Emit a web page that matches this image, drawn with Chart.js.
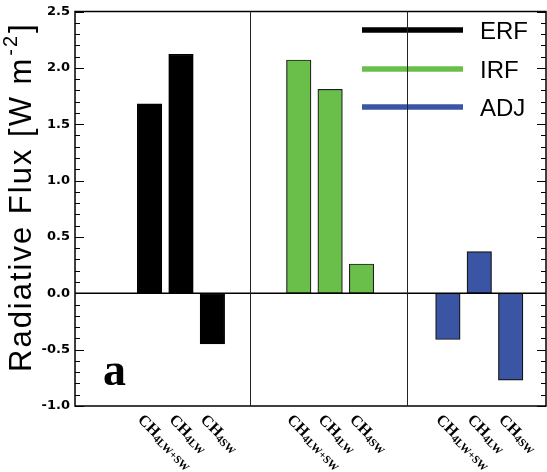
<!DOCTYPE html>
<html>
<head>
<meta charset="utf-8">
<script src="https://cdn.jsdelivr.net/npm/chart.js@4.4.0/dist/chart.umd.min.js"></script>
<style>
  html, body { margin: 0; padding: 0; background: #fff; }
</style>
</head>
<body>
<canvas id="fluxChart" width="547" height="472"></canvas>
<script>
// experiments shown in every panel
const experiments = ['CH4LW+SW', 'CH4LW', 'CH4SW'];
// forcing terms, one panel each
const seriesNames = ['ERF', 'IRF', 'ADJ'];
const erf = [1.68, 2.12, -0.45];
const irf = [2.07, 1.81, 0.26];
const adj = [-0.41, 0.37, -0.77];
// labelled y ticks
const yTicks = [-1.0, -0.5, 0.0, 0.5, 1.0, 1.5, 2.0, 2.5];

const seriesColors = ['#000000', '#6abf4b', '#3a55a4'];
const seriesBorders = ['#000000', '#1e1e1e', '#111111'];

// the x axis is a row of narrow slots; bars sit on every 4th slot, panels 19 slots apart
const nSlots = 60, firstSlot = 9, groupStep = 19, barStep = 4;
const dividerSlots = [21.8, 41.8];

const labels = new Array(nSlots).fill('');
[0, 1, 2].forEach(g => experiments.forEach((name, i) => {
    labels[firstSlot + g * groupStep + i * barStep] = name;
}));

function slotData(values, group) {
    const arr = new Array(nSlots).fill(null);
    values.forEach((v, i) => { arr[firstSlot + group * groupStep + i * barStep] = v; });
    return arr;
}

function line(ctx, x1, y1, x2, y2) {
    ctx.beginPath();
    ctx.moveTo(x1, y1);
    ctx.lineTo(x2, y2);
    ctx.stroke();
}

const panelDecor = {
    id: 'panelDecor',
    afterDatasetsDraw(chart) {
        const { ctx, chartArea: a, scales: { x, y } } = chart;
        ctx.save();
        ctx.strokeStyle = '#000';
        ctx.fillStyle = '#000';

        // zero line
        ctx.lineWidth = 1.6;
        const y0 = y.getPixelForValue(0);
        line(ctx, a.left, y0, a.right, y0);

        // inward tick marks on both sides, minor every 0.1
        ctx.lineWidth = 1;
        const steps = Math.round((y.max - y.min) * 10);
        for (let i = 0; i <= steps; i++) {
            const py = Math.round(y.getPixelForValue(y.min + i * 0.1)) + 0.5;
            const len = i % 5 === 0 ? 9 : 5;
            line(ctx, a.left, py, a.left + len, py);
            line(ctx, a.right - len, py, a.right, py);
        }

        // frame
        ctx.lineWidth = 1.5;
        ctx.strokeRect(a.left, a.top, a.right - a.left, a.bottom - a.top);

        // legend
        const legendY = [30, 69, 107];
        seriesNames.forEach((name, i) => {
            ctx.strokeStyle = seriesColors[i];
            ctx.lineWidth = 5.5;
            line(ctx, 362, legendY[i], 463, legendY[i]);
            ctx.fillStyle = '#000';
            ctx.font = '24px "Liberation Sans", Arial, sans-serif';
            ctx.textAlign = 'left';
            ctx.textBaseline = 'alphabetic';
            ctx.fillText(name, 480, legendY[i] + 8.6);
        });

        // panel dividers
        ctx.strokeStyle = '#222';
        ctx.lineWidth = 1;
        dividerSlots.forEach(s => {
            const px = Math.round(x.getPixelForValue(s)) + 0.5;
            line(ctx, px, a.top, px, a.bottom);
        });

        // slanted experiment names with subscripts
        ctx.fillStyle = '#000';
        ctx.textAlign = 'left';
        ctx.textBaseline = 'top';
        chart.data.labels.forEach((name, slot) => {
            if (!name) return;
            const px = x.getPixelForValue(slot);
            ctx.save();
            ctx.translate(px - 4, a.bottom + 6);
            ctx.rotate(Math.PI / 4);
            ctx.font = 'bold 16px "Liberation Serif", "Times New Roman", serif';
            ctx.fillText('CH', 0, 0);
            const w = ctx.measureText('CH').width;
            ctx.font = 'bold 11px "Liberation Serif", "Times New Roman", serif';
            ctx.fillText(name.slice(2), w, 6);
            ctx.restore();
        });

        // y axis title with superscript
        ctx.save();
        ctx.translate(31, 372);
        ctx.rotate(-Math.PI / 2);
        ctx.textBaseline = 'alphabetic';
        ctx.letterSpacing = '2px';
        ctx.font = '31px "Liberation Sans", Arial, sans-serif';
        const main = 'Radiative Flux [W m';
        ctx.fillText(main, 0, 0);
        let w = ctx.measureText(main).width + 1;
        ctx.font = '20px "Liberation Sans", Arial, sans-serif';
        ctx.fillText('-2', w, -14);
        w += ctx.measureText('-2').width + 1;
        ctx.font = '31px "Liberation Sans", Arial, sans-serif';
        ctx.fillText(']', w, 0);
        ctx.restore();

        // panel letter
        ctx.font = 'bold 46px "Liberation Serif", "Times New Roman", serif';
        ctx.textBaseline = 'alphabetic';
        ctx.fillText('a', 103, 385);

        ctx.restore();
    }
};

const barCommon = {
    borderWidth: 1.2,
    borderSkipped: false,
    barThickness: 24.5,
    grouped: false
};

new Chart(document.getElementById('fluxChart'), {
    type: 'bar',
    data: {
        labels: labels,
        datasets: [
            { label: seriesNames[0], data: slotData(erf, 0), backgroundColor: seriesColors[0], borderColor: seriesBorders[0], ...barCommon },
            { label: seriesNames[1], data: slotData(irf, 1), backgroundColor: seriesColors[1], borderColor: seriesBorders[1], ...barCommon },
            { label: seriesNames[2], data: slotData(adj, 2), backgroundColor: seriesColors[2], borderColor: seriesBorders[2], ...barCommon }
        ]
    },
    options: {
        responsive: false,
        animation: false,
        layout: { padding: { top: 6, right: 1, bottom: 66, left: 0 } },
        plugins: {
            legend: { display: false },
            tooltip: { enabled: false }
        },
        scales: {
            x: {
                type: 'category',
                offset: true,
                display: false,
                grid: { display: false }
            },
            y: {
                min: -1.0,
                max: 2.5,
                grid: { display: false, drawTicks: false },
                border: { display: false },
                afterBuildTicks: scale => { scale.ticks = yTicks.map(v => ({ value: v })); },
                afterFit: scale => { scale.width = 75; },
                ticks: {
                    autoSkip: false,
                    padding: 5,
                    color: '#000',
                    font: { family: 'DejaVu Sans', weight: 'bold', size: 13, lineHeight: 1 },
                    callback: v => v.toFixed(1)
                }
            }
        }
    },
    plugins: [panelDecor]
});
</script>
</body>
</html>
